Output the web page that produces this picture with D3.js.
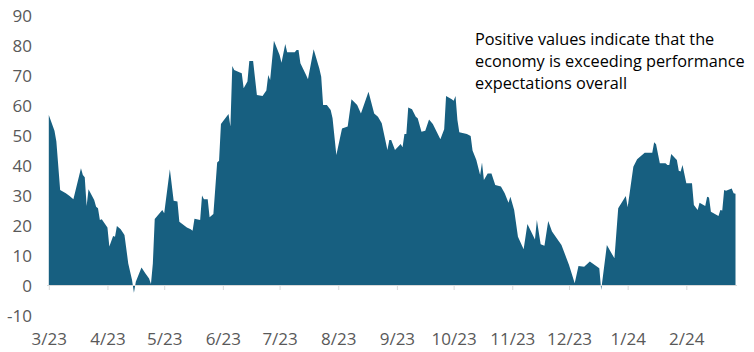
<!DOCTYPE html>
<html>
<head>
<meta charset="utf-8">
<script src="https://cdn.jsdelivr.net/npm/d3@7"></script>
<style>
  body { margin: 0; background: #fff; }
  svg text { font-family: "Open Sans", sans-serif; }
</style>
</head>
<body>
<svg width="754" height="352"></svg>
<script>
var dates = [
  "2023-03-01", "2023-03-04", "2023-03-05", "2023-03-07", "2023-03-10", "2023-03-12", "2023-03-14",
  "2023-03-18", "2023-03-19", "2023-03-20", "2023-03-21", "2023-03-22", "2023-03-25", "2023-03-26",
  "2023-03-27", "2023-03-28", "2023-03-29", "2023-04-01", "2023-04-02", "2023-04-04", "2023-04-05",
  "2023-04-06", "2023-04-08", "2023-04-10", "2023-04-12", "2023-04-14", "2023-04-15", "2023-04-16",
  "2023-04-19", "2023-04-21", "2023-04-23", "2023-04-24", "2023-04-25", "2023-04-26", "2023-04-30",
  "2023-05-01", "2023-05-04", "2023-05-06", "2023-05-08", "2023-05-09", "2023-05-13", "2023-05-15",
  "2023-05-16", "2023-05-17", "2023-05-20", "2023-05-21", "2023-05-22", "2023-05-24", "2023-05-25",
  "2023-05-27", "2023-05-29", "2023-05-30", "2023-05-31", "2023-06-04", "2023-06-05", "2023-06-06",
  "2023-06-07", "2023-06-10", "2023-06-11", "2023-06-12", "2023-06-14", "2023-06-15", "2023-06-17",
  "2023-06-19", "2023-06-22", "2023-06-24", "2023-06-25", "2023-06-26", "2023-06-28", "2023-07-01",
  "2023-07-02", "2023-07-04", "2023-07-05", "2023-07-09", "2023-07-10", "2023-07-11", "2023-07-12",
  "2023-07-15", "2023-07-16", "2023-07-19", "2023-07-22", "2023-07-23", "2023-07-24", "2023-07-26",
  "2023-07-28", "2023-07-29", "2023-07-31", "2023-08-03", "2023-08-06", "2023-08-08", "2023-08-11",
  "2023-08-13", "2023-08-17", "2023-08-20", "2023-08-22", "2023-08-24", "2023-08-27", "2023-08-28",
  "2023-08-29", "2023-08-31", "2023-09-03", "2023-09-04", "2023-09-05", "2023-09-06", "2023-09-07",
  "2023-09-09", "2023-09-11", "2023-09-12", "2023-09-14", "2023-09-16", "2023-09-18", "2023-09-20",
  "2023-09-24", "2023-09-26", "2023-09-27", "2023-09-30", "2023-10-01", "2023-10-02", "2023-10-03",
  "2023-10-04", "2023-10-08", "2023-10-10", "2023-10-11", "2023-10-13", "2023-10-15", "2023-10-16",
  "2023-10-17", "2023-10-19", "2023-10-21", "2023-10-23", "2023-10-26", "2023-10-28", "2023-10-30",
  "2023-10-31", "2023-11-02", "2023-11-04", "2023-11-07", "2023-11-09", "2023-11-13", "2023-11-14",
  "2023-11-16", "2023-11-18", "2023-11-20", "2023-11-22", "2023-11-27", "2023-12-01", "2023-12-04",
  "2023-12-06", "2023-12-09", "2023-12-12", "2023-12-17", "2023-12-18", "2023-12-21", "2023-12-23",
  "2023-12-25", "2023-12-27", "2023-12-31", "2024-01-01", "2024-01-04", "2024-01-06", "2024-01-10",
  "2024-01-14", "2024-01-15", "2024-01-16", "2024-01-18", "2024-01-21", "2024-01-22", "2024-01-23",
  "2024-01-24", "2024-01-27", "2024-01-28", "2024-01-29", "2024-01-30", "2024-02-01", "2024-02-04",
  "2024-02-05", "2024-02-07", "2024-02-08", "2024-02-11", "2024-02-12", "2024-02-13", "2024-02-14",
  "2024-02-18", "2024-02-19", "2024-02-20", "2024-02-21", "2024-02-22", "2024-02-25", "2024-02-26",
  "2024-02-27"
]

var values = [
  56.7, 51.4, 47.8, 31.7, 30.6, 29.7, 28.6,
  38.9, 36.7, 35.9, 26.3, 31.9, 28.3, 26.1,
  25.6, 21.7, 21.9, 19.2, 12.8, 16.3, 16.1,
  19.7, 18.6, 16.7, 7.2, 1.7, -2.6, 1.1,
  5.8, 3.9, 2.2, 0.3, 7.2, 22.0, 25.0,
  23.9, 38.6, 28.1, 27.8, 21.1, 19.2, 18.6,
  18.1, 22.1, 21.7, 29.8, 28.6, 28.6, 22.6,
  23.7, 40.8, 41.4, 53.7, 57.0, 52.8, 73.0,
  71.7, 70.8, 70.6, 65.6, 67.8, 74.7, 74.7,
  63.3, 63.0, 64.8, 70.0, 68.3, 81.4, 76.7,
  74.1, 80.3, 77.6, 77.6, 78.3, 78.3, 73.9,
  70.0, 68.6, 78.6, 72.2, 69.4, 60.0, 60.0,
  58.3, 55.6, 43.3, 52.2, 52.8, 61.9, 60.0,
  57.2, 64.4, 57.2, 56.1, 53.9, 45.0, 48.3,
  48.3, 45.0, 47.0, 45.9, 50.3, 50.3, 59.2,
  58.6, 56.1, 55.6, 51.1, 51.4, 55.2, 53.7,
  48.6, 51.9, 63.0, 61.9, 61.4, 63.0, 55.0,
  50.9, 50.3, 49.7, 44.8, 41.7, 36.7, 40.8,
  35.0, 37.2, 37.2, 33.3, 32.8, 30.6, 27.4,
  29.4, 25.0, 16.1, 11.9, 20.3, 15.2, 21.7,
  13.6, 13.1, 21.3, 17.8, 13.3, 6.7, 0.6,
  6.3, 6.1, 7.8, 5.6, -1.7, 13.3, 11.1,
  8.9, 25.6, 29.7, 25.9, 39.4, 41.9, 44.1,
  44.1, 47.6, 46.9, 40.6, 40.6, 40.0, 40.0,
  43.7, 41.7, 38.1, 37.8, 40.0, 33.9, 33.9,
  26.7, 25.0, 27.4, 26.3, 29.4, 29.2, 24.4,
  23.0, 25.0, 24.8, 31.7, 31.4, 32.2, 30.6,
  30.4
]

var yTicks = [-10, 0, 10, 20, 30, 40, 50, 60, 70, 80, 90]
var noteLines = [
  "Positive values indicate that the",
  "economy is exceeding performance",
  "expectations overall"
]

var svg = d3.select("svg")
var parse = d3.timeParse("%Y-%m-%d")
var data = dates.map(function(d, i) { return { date: parse(d), value: values[i] } })

var x = d3.scaleTime()
    .domain(d3.extent(data, d => d.date))
    .range([48.8, 735.5])

var y = d3.scaleLinear()
    .domain([-10, 90])
    .range([315, 15])

var area = d3.area()
    .x(d => x(d.date))
    .y0(y(0))
    .y1(d => y(d.value))

svg.append("path")
    .datum(data)
    .attr("d", area)
    .attr("fill", "#175f80")

// x axis on the zero line
var monthTicks = d3.timeMonth.range(parse("2023-03-01"), parse("2024-02-27"))
var xAxis = svg.append("g")
    .attr("transform", "translate(0," + y(0) + ")")
    .call(d3.axisBottom(x)
        .tickValues(monthTicks)
        .tickFormat(d3.timeFormat("%-m/%y"))
        .tickSize(5)
        .tickSizeOuter(0))

xAxis.select(".domain").attr("stroke", "#d9d9d9").attr("d", "M47,0.5H737")
xAxis.selectAll(".tick line").attr("stroke", "#d9d9d9")
xAxis.selectAll(".tick text")
    .attr("y", 0)
    .attr("dy", null)
    .attr("transform", "translate(0," + (338 - y(0)) + ")")
    .attr("dominant-baseline", "central")
    .attr("fill", "#595959")
    .style("font-size", "17px")

// y labels
svg.append("g").selectAll("text")
    .data(yTicks)
    .enter().append("text")
    .attr("x", 32)
    .attr("y", d => y(d))
    .attr("text-anchor", "end")
    .attr("dominant-baseline", "central")
    .attr("fill", "#595959")
    .style("font-size", "17px")
    .text(d => d)

svg.append("g").selectAll("text")
    .data(noteLines)
    .enter().append("text")
    .attr("x", 475)
    .attr("y", (d, i) => 38.5 + i * 22)
    .attr("dominant-baseline", "central")
    .attr("fill", "#000")
    .style("font-size", "16.3px")
    .text(d => d)
</script>
</body>
</html>
